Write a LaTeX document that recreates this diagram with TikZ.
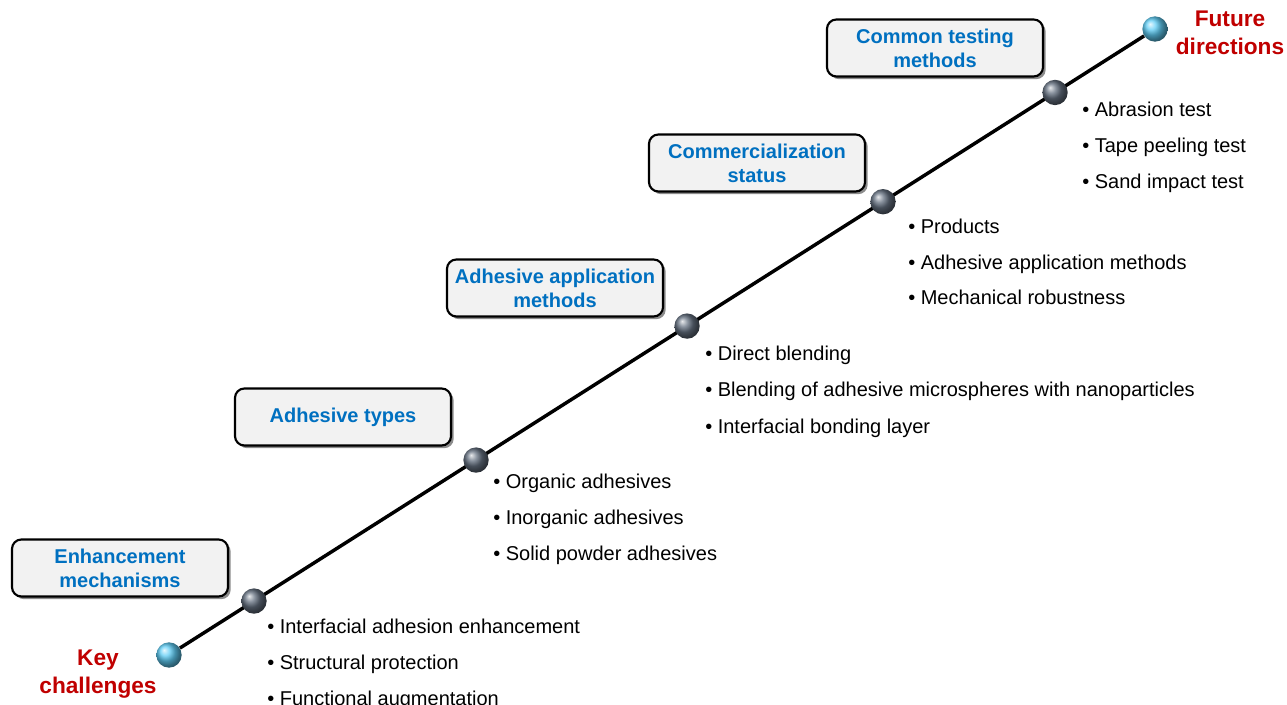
\documentclass[tikz,border=0pt]{standalone}
\usepackage{fontspec}
\setmainfont{Liberation Sans}
\usetikzlibrary{shadows,backgrounds,calc}
\definecolor{tblue}{HTML}{0070C0}
\definecolor{tred}{HTML}{C00000}
\definecolor{boxfill}{HTML}{F2F2F2}
\definecolor{gballc}{RGB}{100,112,128}
\definecolor{cballc}{RGB}{95,205,245}
\begin{document}
\begin{tikzpicture}[x=0.75pt,y=-0.75pt,
 topic/.style={draw=black,line width=1.6pt,rounded corners=7pt,fill=boxfill,minimum width=162pt,minimum height=42.75pt,align=center,font=\fontsize{15}{18}\selectfont\bfseries,text=tblue,drop shadow={shadow xshift=2pt,shadow yshift=-2pt,fill=black!45,opacity=1}},
 endlabel/.style={align=center,font=\fontsize{17}{21}\selectfont\bfseries,text=tred},
 item/.style={anchor=base west,font=\fontsize{15}{18}\selectfont,inner sep=0pt},
 gball/.style={circle,minimum size=19pt,inner sep=0pt,ball color=gballc},
 cball/.style={circle,minimum size=19pt,inner sep=0pt,ball color=cballc},
 track/.style={line width=2.6pt}]
\useasboundingbox (0,0) rectangle (1287,705);
% end balls
\node[cball] (start) at (169,655) {};
\node[cball] (finish) at (1155,29) {};
\begin{scope}[on background layer]
\draw[track] (start) -- (finish);
\end{scope}
% milestone balls
\node[gball] (b1) at ($(start)!0.0862!(finish)$) {};
\node[gball] (b2) at ($(start)!0.3114!(finish)$) {};
\node[gball] (b3) at ($(start)!0.5254!(finish)$) {};
\node[gball] (b4) at ($(start)!0.7241!(finish)$) {};
\node[gball] (b5) at ($(start)!0.8986!(finish)$) {};
% end labels
\node[endlabel] (kc) at (98,674) {Key\\challenges};
\node[endlabel] (fdir) at (1230,33) {Future\\directions};
% topic boxes
\node[topic] (t1) at (120,568) {Enhancement\\mechanisms};
\node[topic] (t2) at (343,417) {Adhesive types};
\node[topic] (t3) at (555,288) {Adhesive application\\methods};
\node[topic] (t4) at (757,163) {Commercialization\\status};
\node[topic] (t5) at (935,48) {Common testing\\methods};
% item lists
\node[item] (i11) at (267,633) {• Interfacial adhesion enhancement};
\node[item] (i12) at (267,669) {• Structural protection};
\node[item] (i13) at (267,705) {• Functional augmentation};
\node[item] (i21) at (493,488) {• Organic adhesives};
\node[item] (i22) at (493,524) {• Inorganic adhesives};
\node[item] (i23) at (493,560) {• Solid powder adhesives};
\node[item] (i31) at (705,361) {• Direct blending};
\node[item] (i32) at (705,397) {• Blending of adhesive microspheres with nanoparticles};
\node[item] (i33) at (705,433) {• Interfacial bonding layer};
\node[item] (i41) at (908,234) {• Products};
\node[item] (i42) at (908,270) {• Adhesive application methods};
\node[item] (i43) at (908,305) {• Mechanical robustness};
\node[item] (i51) at (1082,117) {• Abrasion test};
\node[item] (i52) at (1082,153) {• Tape peeling test};
\node[item] (i53) at (1082,189) {• Sand impact test};
\end{tikzpicture}
\end{document}
